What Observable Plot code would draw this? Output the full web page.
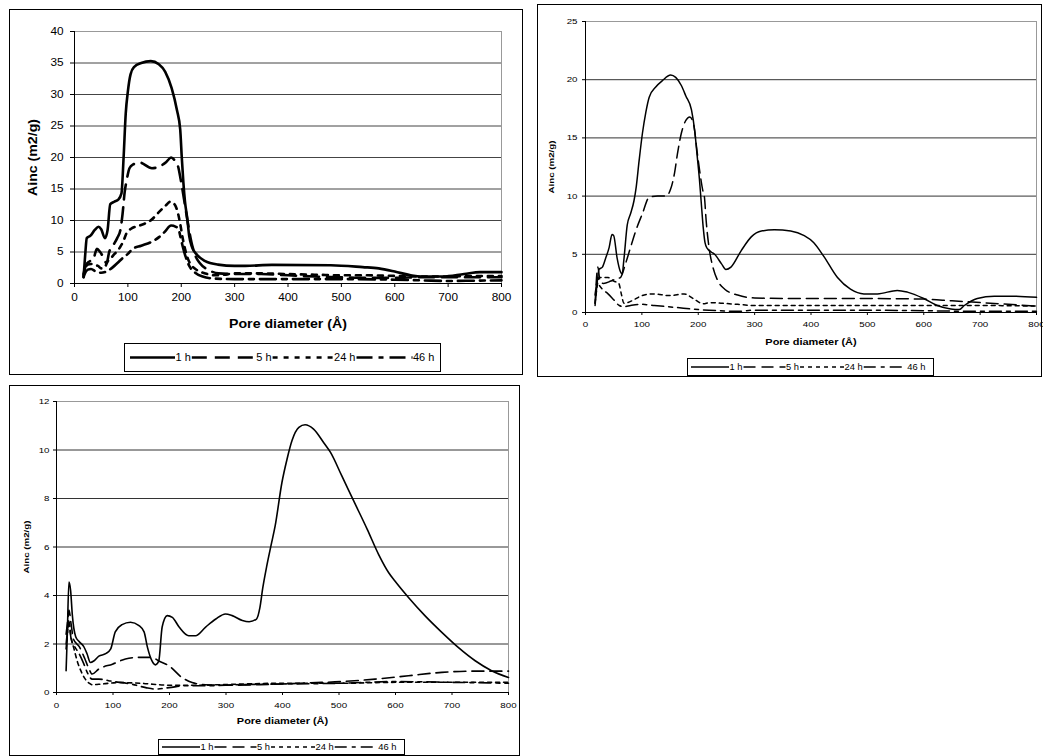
<!DOCTYPE html>
<html><head><meta charset="utf-8">
<script src="https://cdn.jsdelivr.net/npm/d3@7"></script>
<script src="https://cdn.jsdelivr.net/npm/@observablehq/plot@0.6"></script>
<style>
body{margin:0;background:#fff;font-family:"Liberation Sans",Arial,sans-serif;}
#page{position:relative;width:1043px;height:756px;overflow:hidden;background:#fff;}
.frame{position:absolute;border:1.5px solid #000;box-sizing:border-box;}
.legend{position:absolute;border:1px solid #000;box-sizing:border-box;background:#fff;}
</style></head><body><div id="page"></div><script>
// ---------- data ----------
const SERIES = ["1 h", "5 h", "24 h", "46 h"];
const X_TICKS = [0, 100, 200, 300, 400, 500, 600, 700, 800];
const P1_Y_TICKS = [0, 5, 10, 15, 20, 25, 30, 35, 40];
const P2_Y_TICKS = [0, 5, 10, 15, 20, 25];
const P3_Y_TICKS = [0, 2, 4, 6, 8, 10, 12];
const X_TITLE = "Pore diameter (Å)";
const Y_TITLE = "Ainc (m2/g)";

// panel 1 (top left): [pore diameter, Ainc]
const p1_1h = [[17,1.0],[20,4.5],[23,7.2],[30,7.6],[38,8.5],[45,9.0],[50,8.6],[57,7.2],[62,8.5],[67,12.6],[75,13.0],[82,13.3],[88,14.3],[92,20],[96,27],[100,30.5],[105,33.2],[112,34.4],[125,35.0],[143,35.3],[158,34.8],[170,33.6],[182,31.0],[192,27.5],[198,24.5],[201,20],[204,16],[207,13],[211,10.5],[215,7.5],[220,5.8],[228,4.7],[244,3.6],[269,3.0],[300,2.8],[320,2.8],[370,2.95],[480,2.9],[540,2.6],[570,2.4],[600,1.9],[630,1.3],[650,1.1],[690,1.1],[730,1.5],[760,1.8],[800,1.8]];
const p1_5h = [[17,1.5],[22,3.0],[28,3.5],[35,3.8],[42,5.5],[48,5.0],[55,4.0],[60,3.2],[65,5.0],[72,6.0],[80,7.2],[86,8.5],[90,11],[94,14.5],[98,16.5],[103,18.3],[110,18.9],[122,19.2],[145,18.3],[160,18.6],[172,19.3],[181,20.0],[188,19.5],[194,18.6],[199,16.5],[205,13.5],[212,9.8],[219,6.6],[226,4.5],[235,3.2],[250,2.2],[270,1.6],[300,1.5],[350,1.5],[400,1.3],[450,1.1],[500,1.0],[550,0.9],[600,0.9],[650,1.0],[700,1.0],[800,1.0]];
const p1_24h = [[17,1.2],[20,2.3],[25,3.0],[31,3.1],[38,2.9],[44,2.8],[50,2.4],[56,2.5],[62,3.5],[69,4.1],[75,4.7],[81,5.2],[87,6.0],[91,6.6],[97,7.9],[106,8.7],[122,9.2],[144,10.1],[159,11.4],[170,12.3],[180,13.0],[188,12.5],[194,11.1],[198,9.5],[202,7.5],[207,5.5],[213,3.8],[220,2.8],[230,2.1],[245,1.6],[260,1.3],[280,1.4],[300,1.6],[350,1.6],[400,1.5],[450,1.4],[500,1.3],[550,1.3],[600,1.2],[650,1.1],[700,1.1],[750,1.2],[800,1.2]];
const p1_46h = [[17,1.0],[19,1.5],[25,2.2],[31,2.3],[40,1.9],[50,1.7],[62,2.0],[72,2.6],[81,3.3],[91,4.1],[100,4.7],[109,5.5],[125,6.0],[144,6.6],[159,7.4],[169,8.2],[181,9.2],[190,9.0],[195,8.6],[198,7.6],[203,5.8],[208,4.3],[215,2.8],[225,1.8],[240,1.1],[260,0.8],[300,0.7],[400,0.7],[500,0.7],[600,0.6],[650,0.5],[700,0.4],[750,0.45],[800,0.5]];

// panel 2 (top right)
const p2_1h = [[17,0.6],[21,2.7],[24,3.7],[30,3.9],[36,4.7],[42,5.6],[47,6.7],[50,6.6],[56,4.7],[62,3.5],[65,3.3],[68,4.5],[74,7.5],[80,8.5],[86,9.6],[90,10.8],[95,13],[101,15.4],[107,17.2],[113,18.5],[125,19.4],[136,19.9],[151,20.4],[160,20.2],[170,19.5],[178,18.6],[188,17.4],[194,15.5],[198,13.5],[202,11.5],[206,9],[209,7.2],[212,6.0],[216,5.5],[223,5.2],[229,5.0],[241,4.2],[249,3.7],[258,3.9],[276,5.3],[294,6.5],[312,7.0],[335,7.1],[364,7.0],[388,6.6],[405,6.0],[423,4.8],[447,3.0],[470,2.0],[494,1.6],[518,1.6],[553,1.9],[571,1.75],[600,1.2],[624,0.6],[648,0.3],[663,0.25],[672,0.6],[695,1.2],[725,1.4],[754,1.4],[800,1.3]];
const p2_5h = [[17,0.8],[22,3.9],[26,2.6],[32,2.5],[45,2.7],[55,2.9],[62,3.0],[71,4.2],[80,5.6],[89,7.0],[101,8.5],[113,9.9],[128,10.0],[143,10.0],[151,10.6],[158,12],[163,13.6],[170,15.4],[178,16.5],[185,16.8],[192,16.1],[198,13.8],[203,12.0],[208,10.5],[211,9.9],[214,7.9],[220,5.3],[226,3.9],[235,2.7],[247,2.0],[270,1.5],[300,1.25],[400,1.2],[500,1.2],[600,1.15],[650,1.0],[700,0.85],[750,0.7],[800,0.55]];
const p2_24h = [[17,0.8],[20,2.0],[24,3.0],[30,3.0],[40,3.0],[50,2.7],[59,2.5],[64,1.5],[68,0.8],[75,0.85],[86,1.1],[100,1.45],[120,1.6],[150,1.45],[175,1.6],[191,1.2],[209,0.75],[220,0.85],[240,0.8],[270,0.7],[300,0.6],[400,0.6],[500,0.6],[600,0.6],[700,0.6],[800,0.55]];
const p2_46h = [[17,1.5],[21,2.6],[25,2.3],[30,2.0],[40,1.6],[50,1.1],[60,0.6],[68,0.5],[80,0.6],[100,0.7],[122,0.6],[157,0.45],[200,0.25],[240,0.15],[270,0.1],[300,0.2],[400,0.2],[500,0.2],[600,0.15],[700,0.1],[800,0.1]];

// panel 3 (bottom left)
const p3_1h = [[17,0.9],[19,2.3],[22,4.55],[25,4.2],[28,3.2],[34,2.3],[40,2.1],[48,1.9],[54,1.6],[60,1.24],[66,1.3],[75,1.5],[87,1.6],[96,1.8],[104,2.5],[116,2.8],[131,2.9],[146,2.76],[155,2.5],[161,1.86],[169,1.3],[175,1.14],[181,1.3],[187,2.7],[196,3.17],[205,3.1],[217,2.7],[234,2.34],[246,2.34],[264,2.7],[282,3.03],[299,3.24],[311,3.17],[329,2.97],[341,2.92],[354,3.03],[360,3.5],[365,4.3],[372,5.2],[380,6.1],[387,6.87],[399,8.66],[408,9.62],[417,10.4],[429,10.93],[440,11.04],[455,10.86],[473,10.3],[485,9.9],[505,8.93],[526,7.9],[550,6.73],[570,5.7],[588,4.94],[599,4.6],[623,3.92],[652,3.17],[682,2.48],[711,1.86],[741,1.31],[770,0.9],[800,0.62]];
const p3_5h = [[17,2.4],[20,3.0],[22,3.4],[26,2.8],[30,2.2],[40,1.9],[50,1.4],[57,1.0],[63,0.76],[75,0.97],[99,1.17],[122,1.38],[146,1.45],[169,1.45],[181,1.3],[199,1.1],[222,0.62],[240,0.41],[264,0.32],[300,0.3],[350,0.32],[400,0.35],[450,0.4],[505,0.45],[564,0.55],[623,0.69],[682,0.83],[741,0.88],[800,0.88]];
const p3_24h = [[17,1.8],[20,2.6],[22,3.0],[25,2.4],[31,1.8],[38,1.2],[43,0.9],[51,0.55],[58,0.38],[63,0.32],[80,0.35],[110,0.41],[150,0.38],[200,0.3],[250,0.3],[300,0.33],[400,0.38],[500,0.38],[600,0.42],[700,0.42],[800,0.42]];
const p3_46h = [[17,2.0],[20,2.6],[22,2.8],[26,2.2],[32,1.9],[40,1.6],[48,1.2],[55,0.8],[63,0.55],[75,0.55],[99,0.46],[134,0.34],[158,0.2],[175,0.14],[199,0.2],[229,0.28],[270,0.28],[317,0.32],[400,0.35],[500,0.38],[600,0.45],[700,0.42],[800,0.38]];

// ---------- drawing ----------
const FONT = "'Liberation Sans', Arial, Helvetica, sans-serif";
const page = document.getElementById("page");

function addBox(cls, l, t, w, h) {
  const d = document.createElement("div");
  d.className = cls;
  Object.assign(d.style, {left: l + "px", top: t + "px", width: w + "px", height: h + "px"});
  page.appendChild(d);
  return d;
}

// widen glyphs horizontally about each text's own anchor point
function stretchText(t, f) {
  let x = parseFloat(t.getAttribute("x"));
  if (!isFinite(x)) x = 0;
  const tr = t.getAttribute("transform") || "";
  t.setAttribute("transform", `${tr} translate(${x},0) scale(${f},1) translate(${-x},0)`.trim());
}
function stretchTexts(root, f) {
  root.querySelectorAll("text").forEach(t => stretchText(t, f));
}

function drawPanel(cfg) {
  const [fl, ft, fr, fb] = cfg.frame;
  addBox("frame", fl, ft, fr - fl, fb - ft);
  const [al, at, ar, ab] = cfg.area;
  const [sl, st, sw, sh] = cfg.svg;
  const rows = [];
  cfg.series.forEach((arr, i) => arr.forEach(([d, v]) => rows.push({s: SERIES[i], d, v})));
  const yMax = cfg.yTicks[cfg.yTicks.length - 1];
  const chart = Plot.plot({
    width: sw, height: sh,
    marginLeft: al - sl, marginTop: at - st, marginRight: sl + sw - ar, marginBottom: st + sh - ab,
    x: {domain: [0, 800]},
    y: {domain: [0, yMax]},
    style: {fontFamily: FONT, fontSize: cfg.fs + "px", color: "#000", background: "transparent", overflow: "visible"},
    marks: [
      Plot.ruleY(cfg.yTicks.filter(t => t > 0), {stroke: cfg.grid, strokeWidth: 1}),
      Plot.frame({stroke: "#999", strokeWidth: 1}),
      Plot.ruleX([0], {stroke: "#000", strokeWidth: 1}),
      Plot.ruleY([0], {stroke: "#000", strokeWidth: 1}),
      Plot.axisX({ticks: X_TICKS, tickSize: cfg.tick, tickPadding: cfg.xPad, label: null, stroke: "#000"}),
      Plot.axisY({ticks: cfg.yTicks, tickSize: cfg.tick, tickPadding: cfg.yPad, label: null, stroke: "#000"}),
      ...SERIES.map((s, i) => Plot.line(rows.filter(r => r.s === s), {
        x: "d", y: "v", curve: "monotone-x", stroke: "#000", strokeWidth: cfg.lw,
        strokeDasharray: cfg.dash[i] || undefined
      })),
      Plot.text([X_TITLE], {frameAnchor: "bottom", dy: cfg.xtDy, text: d => d, textAnchor: "middle", lineAnchor: "middle",
        fontWeight: "bold", fontSize: cfg.titleFs}),
      Plot.text([Y_TITLE], {frameAnchor: "left", dx: cfg.ytDx, rotate: -90, text: d => d, textAnchor: "middle", lineAnchor: "middle",
        fontWeight: "bold", fontSize: cfg.yTitleFs})
    ]
  });
  Object.assign(chart.style, {position: "absolute", left: sl + "px", top: st + "px", maxWidth: "none"});
  page.appendChild(chart);
  stretchTexts(chart, cfg.stretch);

  // legend
  const [ll, lt, lw, lh] = cfg.legend;
  const box = addBox("legend", ll, lt, lw, lh);
  const svg = d3.select(box).append("svg").attr("width", lw - 2).attr("height", lh - 2)
    .style("display", "block").style("font-family", FONT);
  const cy = (lh - 2) / 2;
  let x = cfg.legPad;
  SERIES.forEach((s, i) => {
    const w = cfg.legW[i];
    svg.append("line").attr("x1", x).attr("x2", x + w).attr("y1", cy).attr("y2", cy)
      .attr("stroke", "#000").attr("stroke-width", cfg.lw)
      .attr("stroke-dasharray", cfg.dash[i] || null);
    x += w;
    const t = svg.append("text").attr("x", x + 0.5).attr("y", cy).attr("dy", "0.35em")
      .attr("font-size", cfg.legFs).attr("fill", "#000").text(s);
    const L = t.node().getComputedTextLength() * cfg.legStretch;
    stretchText(t.node(), cfg.legStretch);
    x += L + 1.5;
  });
}

drawPanel({
  series: [p1_1h, p1_5h, p1_24h, p1_46h], yTicks: P1_Y_TICKS,
  frame: [9, 9, 523, 375], area: [74, 31, 501, 283], svg: [9, 9, 514, 330],
  tick: 4, xPad: 6, yPad: 7, fs: 10, titleFs: 12, yTitleFs: 12, xtDy: 41, ytDx: -41,
  lw: 2.6, dash: [null, "15,8", "5,6", "16,6,5,6"], stretch: 1.18, grid: "#444",
  legend: [124, 343, 317, 29], legPad: 5, legW: [45, 64, 61, 56], legFs: 10, legStretch: 1.1
});
drawPanel({
  series: [p2_1h, p2_5h, p2_24h, p2_46h], yTicks: P2_Y_TICKS,
  frame: [537, 4, 1042, 377], area: [585, 21, 1036, 312], svg: [537, 4, 505, 345],
  tick: 3, xPad: 6, yPad: 5, fs: 8, titleFs: 9, yTitleFs: 8, xtDy: 30, ytDx: -34,
  lw: 1.5, dash: [null, "12,6", "4,4", "12,5,4,5"], stretch: 1.22, grid: "#333",
  legend: [687, 358, 247, 18], legPad: 3, legW: [38, 42, 44, 43], legFs: 8.5, legStretch: 1.1
});
drawPanel({
  series: [p3_1h, p3_5h, p3_24h, p3_46h], yTicks: P3_Y_TICKS,
  frame: [9, 385, 520, 756], area: [56, 401, 508, 692], svg: [9, 385, 511, 345],
  tick: 3, xPad: 7, yPad: 4, fs: 8, titleFs: 9, yTitleFs: 8, xtDy: 29, ytDx: -30,
  lw: 1.6, dash: [null, "12,6", "4,4", "12,5,4,5"], stretch: 1.22, grid: "#333",
  legend: [158, 739, 247, 16], legPad: 3, legW: [38, 42, 44, 43], legFs: 8.5, legStretch: 1.1
});
</script></body></html>
